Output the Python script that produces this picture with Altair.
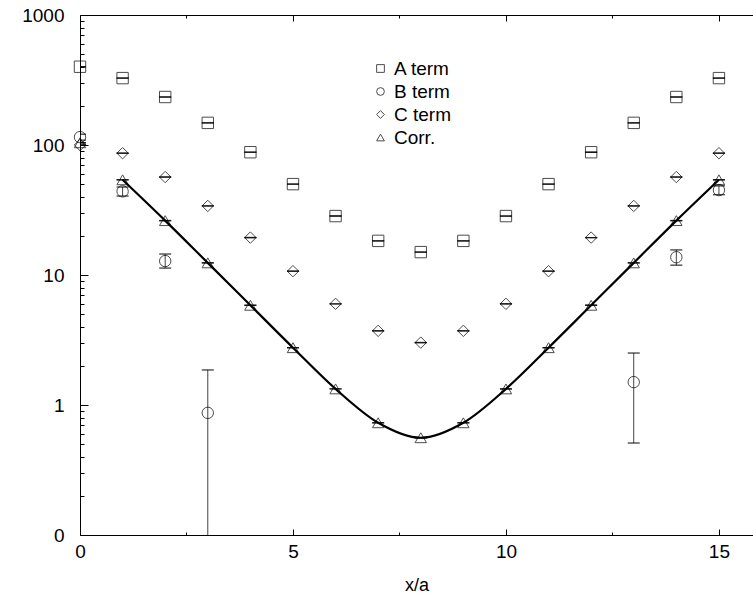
import altair as alt
import pandas as pd

# lattice positions and the measured terms
xs = list(range(16))
a_term = [400, 327, 234, 148, 88, 50, 28.4, 18.3, 15.0, 18.3, 28.4, 50, 88, 148, 234, 327]
c_term = [100, 86.5, 56.7, 34, 19.4, 10.7, 6.0, 3.72, 3.02, 3.72, 6.0, 10.7, 19.4, 34, 56.7, 86.5]
corr = [104, 54, 26.2, 12.4, 5.85, 2.76, 1.33, 0.73, 0.56, 0.73, 1.33, 2.76, 5.85, 12.4, 26.2, 54]

# B term only exists at a few separations; with error ranges
b_x = [0, 1, 2, 3, 13, 14, 15]
b_term = [115, 44, 12.8, 0.87, 1.5, 13.7, 45]
b_lo = [109, 40.5, 11.3, 0.05, 0.51, 11.9, 41.5]
b_hi = [121, 47.5, 14.5, 1.86, 2.51, 15.6, 48.5]

series_names = ["A term", "B term", "C term", "Corr."]
shapes = ["square", "circle", "diamond", "triangle-up"]

rows = []
for x, v in zip(xs, a_term):
    rows.append({"series": "A term", "x": x, "y": v, "lo": v, "hi": v})
for x, v, lo, hi in zip(b_x, b_term, b_lo, b_hi):
    rows.append({"series": "B term", "x": x, "y": v, "lo": lo, "hi": hi})
for x, v in zip(xs, c_term):
    rows.append({"series": "C term", "x": x, "y": v, "lo": v, "hi": v})
for x, v in zip(xs, corr):
    rows.append({"series": "Corr.", "x": x, "y": v, "lo": v, "hi": v})
pts = pd.DataFrame(rows)

fit = pd.DataFrame({"x": xs[1:], "y": corr[1:]})

W, H = 673, 520
xscale = alt.Scale(domain=[0, 15.8], nice=False, zero=False)
yscale = alt.Scale(type="log", domain=[0.1, 1000], nice=False)

y_major = [0.1, 1, 10, 100, 1000]
y_minor = [m * d for d in [0.1, 1, 10, 100] for m in range(2, 10)]
x_major = [0, 5, 10, 15]
x_minor = [2.5, 7.5, 12.5]


def tick_axis(orient, offset, values, size, domain=False):
    return alt.Axis(orient=orient, offset=offset, values=values, tickSize=size,
                    labels=False, domain=domain, domainColor="black",
                    tickColor="black", tickWidth=1, title=None, grid=False)


# fitted curve, carrying the labelled axes
line = alt.Chart(fit).mark_line(interpolate="monotone", color="black", strokeWidth=2.2).encode(
    x=alt.X("x:Q", scale=xscale,
            axis=alt.Axis(orient="bottom", values=x_major, tickSize=0, labelPadding=7,
                          labelFlush=False, domainColor="black", title="x/a",
                          titleFontSize=18, titleFontWeight="normal", titlePadding=15,
                          labelFontSize=19)),
    y=alt.Y("y:Q", scale=yscale,
            axis=alt.Axis(orient="left", values=y_major, tickSize=0, labelPadding=16,
                          labelFlush=False, domainColor="black", title=None, labelFontSize=19,
                          labelExpr="datum.value < 1 ? '0' : format(datum.value, 'd')")),
)

# error bars
bars = alt.Chart(pts).mark_rule(color="#444", strokeWidth=1, clip=True).encode(
    x=alt.X("x:Q", scale=xscale, axis=tick_axis("top", -H, x_major, 6)),
    y=alt.Y("lo:Q", scale=yscale, axis=tick_axis("right", -W, y_major, 8)),
    y2="hi:Q",
)

caps_lo = alt.Chart(pts).mark_tick(orient="horizontal", color="black", size=12,
                                   thickness=1.4, clip=True).encode(
    x=alt.X("x:Q", scale=xscale, axis=tick_axis("top", -H, x_minor, 3)),
    y=alt.Y("lo:Q", scale=yscale, axis=tick_axis("right", -W, y_minor, 4)),
)

caps_hi = alt.Chart(pts).mark_tick(orient="horizontal", color="black", size=12,
                                   thickness=1.4, clip=True).encode(
    x=alt.X("x:Q", scale=xscale, axis=tick_axis("bottom", -H, [5, 10, 15], 6, domain=True)),
    y=alt.Y("hi:Q", scale=yscale, axis=None),
)

markers = alt.Chart(pts).mark_point(filled=False, strokeWidth=1, size=130, color="black").encode(
    x=alt.X("x:Q", scale=xscale, axis=tick_axis("bottom", -H, x_minor, 3)),
    y=alt.Y("y:Q", scale=yscale, axis=None),
    shape=alt.Shape("series:N", scale=alt.Scale(domain=series_names, range=shapes),
                    legend=alt.Legend(orient="none", legendX=291, legendY=44, title=None,
                                      labelFontSize=19, symbolSize=60, symbolStrokeWidth=1,
                                      symbolStrokeColor="black", labelOffset=4,
                                      rowPadding=3, padding=0)),
)

chart = alt.layer(line, bars, caps_lo, caps_hi, markers).resolve_axis(
    x="independent", y="independent"
).properties(
    width=W, height=H, autosize="none",
    padding={"left": 80, "top": 15, "right": 0, "bottom": 64},
).configure_view(stroke=None).configure(
    font="Liberation Sans"
).configure_axis(grid=False, labelColor="black", titleColor="black")

chart.save("out.html", embed_options={"renderer": "svg", "actions": False})
